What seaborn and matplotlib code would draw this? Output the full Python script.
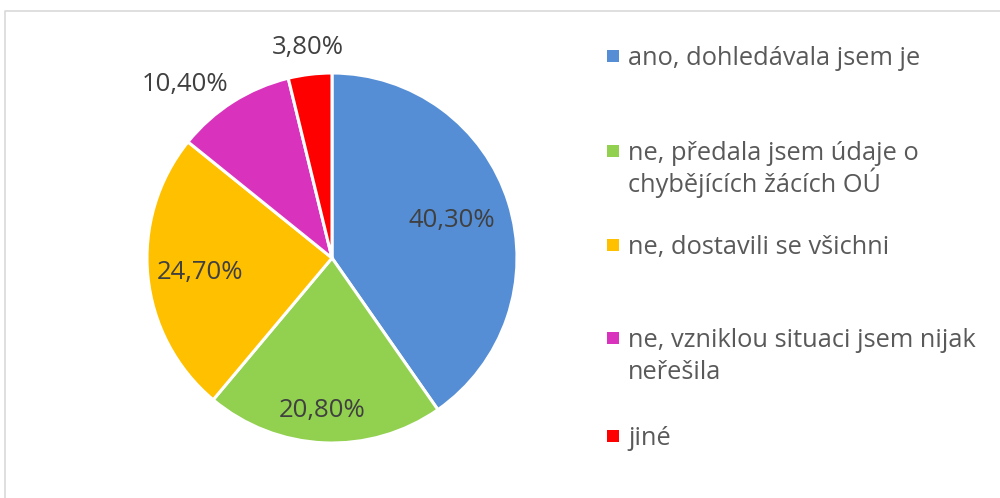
import matplotlib
matplotlib.use("Agg")
import matplotlib.pyplot as plt
from matplotlib.lines import Line2D
from matplotlib.patches import Rectangle
import seaborn as sns
import numpy as np

categories = [
    "ano, dohledávala jsem je",
    "ne, předala jsem údaje o\nchybějících žácích OÚ",
    "ne, dostavili se všichni",
    "ne, vzniklou situaci jsem nijak\nneřešila",
    "jiné",
]
values = [40.3, 20.8, 24.7, 10.4, 3.8]
value_labels = ["40,30%", "20,80%", "24,70%", "10,40%", "3,80%"]
colors = ["#558ED5", "#92D050", "#FFC000", "#D932BC", "#FF0000"]

sns.set_theme(style="white")
plt.rcParams["font.family"] = ["Open Sans", "DejaVu Sans"]
TXT = "#404040"
LEG = "#595959"

W, H = 1000, 498
fig = plt.figure(figsize=(W / 100, H / 100), dpi=100)
fig.patch.set_facecolor("white")

# chart border (light gray), only top/left visible
fig.add_artist(Line2D([5 / W, 5 / W, 1.0], [0.0, 1 - 11 / H, 1 - 11 / H],
                      transform=fig.transFigure, color="#D9D9D9", lw=1.2))

cx, cy, R = 332, 258, 185
ax = fig.add_axes([(cx - R) / W, (H - cy - R) / H, 2 * R / W, 2 * R / H])
wedges, _ = ax.pie(values, colors=sns.color_palette(colors), startangle=90,
                   counterclock=False,
                   wedgeprops=dict(edgecolor="white", linewidth=2.2))
ax.set_xlim(-1, 1)
ax.set_ylim(-1, 1)
ax.set_aspect("equal")
ax.axis("off")

# label placement (radius factor, angle tweak in degrees)
place = [(0.685, 1), (0.81, -1.3), (0.716, -0.4), (1.24, 7.3), (1.16, -0.4)]
for w, lab, (rf, dth) in zip(wedges, value_labels, place):
    th = np.deg2rad((w.theta1 + w.theta2) / 2 + dth)
    ax.text(rf * np.cos(th), rf * np.sin(th), lab, ha="center",
            va="center_baseline", fontsize=18.5, color=TXT, clip_on=False)

# legend
baselines = [65, 160, 254, 347, 445]
LINE = 32
for lab, col, y in zip(categories, colors, baselines):
    fig.add_artist(Rectangle((607 / W, 1 - (y - 3) / H), 12 / W, 12 / H,
                             transform=fig.transFigure, facecolor=col,
                             edgecolor="none"))
    for i, line in enumerate(lab.split("\n")):
        fig.text(628 / W, 1 - (y + i * LINE) / H, line, ha="left",
                 va="baseline", fontsize=18.3, color=LEG)

fig.savefig("out.png", dpi=100)
